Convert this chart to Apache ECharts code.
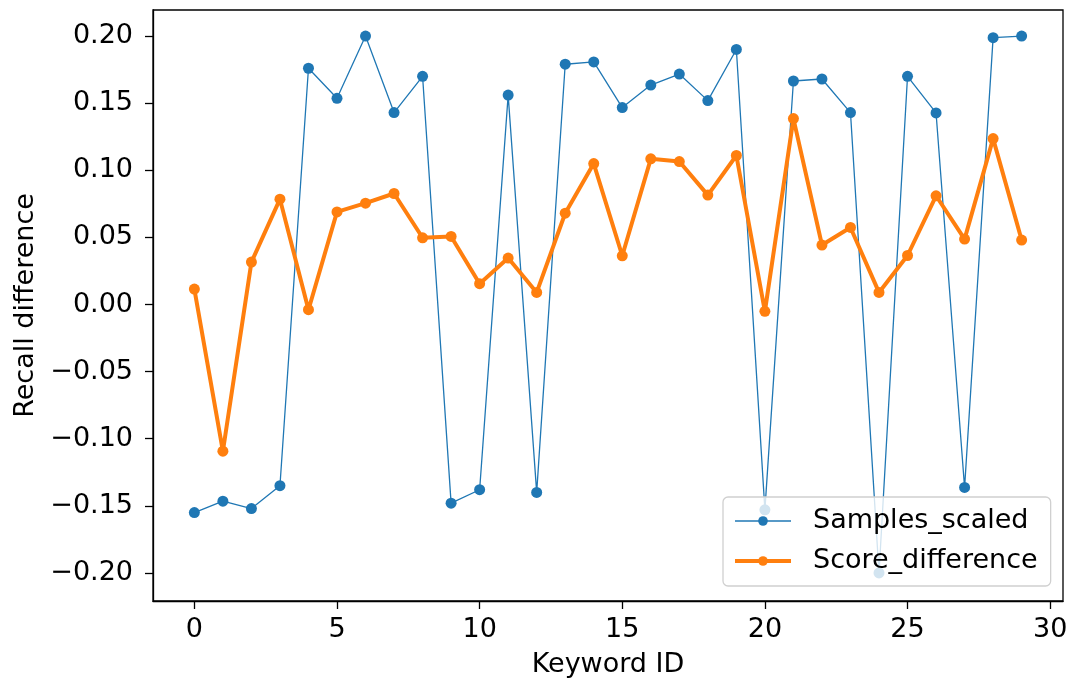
<!DOCTYPE html>
<html>
<head>
<meta charset="utf-8">
<script src="https://cdn.jsdelivr.net/npm/echarts@6/dist/echarts.min.js"></script>
<style>html,body{margin:0;padding:0;background:#fff;}#c{width:1085px;height:685px;}</style>
</head>
<body>
<div id="c"></div>
<script>
var keywordIds = [0,1,2,3,4,5,6,7,8,9,10,11,12,13,14,15,16,17,18,19,20,21,22,23,24,25,26,27,28,29];
var samplesScaled = [-0.155,-0.1465,-0.152,-0.135,0.176,0.1536,0.200,0.143,0.170,-0.148,-0.138,0.156,-0.140,0.179,0.1807,0.1467,0.1635,0.1717,0.1519,0.190,-0.153,0.1665,0.168,0.143,-0.200,0.170,0.1427,-0.1363,0.1988,0.200];
var scoreDifference = [0.0115,-0.1093,0.0316,0.0785,-0.0039,0.069,0.0755,0.0827,0.0497,0.0507,0.0155,0.0346,0.009,0.068,0.105,0.0363,0.1085,0.1065,0.0815,0.111,-0.0051,0.1385,0.0443,0.0574,0.009,0.0365,0.081,0.0487,0.1236,0.048];
var xTicks = [0,5,10,15,20,25,30];
var yTicks = [-0.20,-0.15,-0.10,-0.05,0.00,0.05,0.10,0.15,0.20];

var font = 'DejaVu Sans';
var fs = 27;
var chart = echarts.init(document.getElementById('c'), null, {renderer:'canvas'});
function pairs(vals){ return vals.map(function(v,i){ return [keywordIds[i], v]; }); }
chart.setOption({
  animation: false,
  backgroundColor: '#fff',
  grid: {left:153, right:22, top:10, bottom:84, show:true, borderColor:'#000', borderWidth:1.3, backgroundColor:'transparent'},
  xAxis: {
    type:'value', min:-1.45, max:30.45,
    name:'Keyword ID', nameLocation:'middle', nameGap:50,
    nameTextStyle:{fontFamily:font, fontSize:fs, color:'#000'},
    axisLine:{show:true, onZero:false, lineStyle:{color:'#000', width:1.3}},
    axisTick:{show:true, length:8, lineStyle:{color:'#000', width:1.3}, customValues:xTicks},
    axisLabel:{fontFamily:font, fontSize:fs, color:'#000', margin:15, customValues:xTicks, formatter:function(v){return String(v);}},
    splitLine:{show:false}
  },
  yAxis: {
    type:'value', min:-0.2209, max:0.2194,
    name:'Recall difference', nameLocation:'middle', nameGap:114,
    nameTextStyle:{fontFamily:font, fontSize:fs, color:'#000'},
    axisLine:{show:true, onZero:false, lineStyle:{color:'#000', width:1.3}},
    axisTick:{show:true, length:8, lineStyle:{color:'#000', width:1.3}, customValues:yTicks},
    axisLabel:{fontFamily:font, fontSize:fs, color:'#000', margin:20, customValues:yTicks,
      formatter:function(v){ var s=Math.abs(v).toFixed(2); return (v < -1e-9 ? '\u2212' : '') + s; }},
    splitLine:{show:false}
  },
  legend: {
    left:723, top:497, orient:'vertical', z:20,
    backgroundColor:'rgba(255,255,255,0.8)', borderColor:'#d0d0d0', borderWidth:1.3, borderRadius:5,
    padding:[9,13,10,10], itemGap:10, itemWidth:56, itemHeight:12,
    textStyle:{fontFamily:font, fontSize:fs, color:'#000', lineHeight:30, padding:[0,0,0,17]},
    data:[
      {name:'Samples_scaled', lineStyle:{width:1.5}},
      {name:'Score_difference', lineStyle:{width:4}}
    ]
  },
  series: [
    {name:'Samples_scaled', type:'line', data:pairs(samplesScaled), symbol:'circle', symbolSize:11,
     color:'#1f77b4', lineStyle:{width:1.3, color:'#1f77b4'}, itemStyle:{color:'#1f77b4'}, z:2},
    {name:'Score_difference', type:'line', data:pairs(scoreDifference), symbol:'circle', symbolSize:11,
     color:'#ff7f0e', lineStyle:{width:4, color:'#ff7f0e'}, itemStyle:{color:'#ff7f0e'}, z:3}
  ]
});
</script>
</body>
</html>
